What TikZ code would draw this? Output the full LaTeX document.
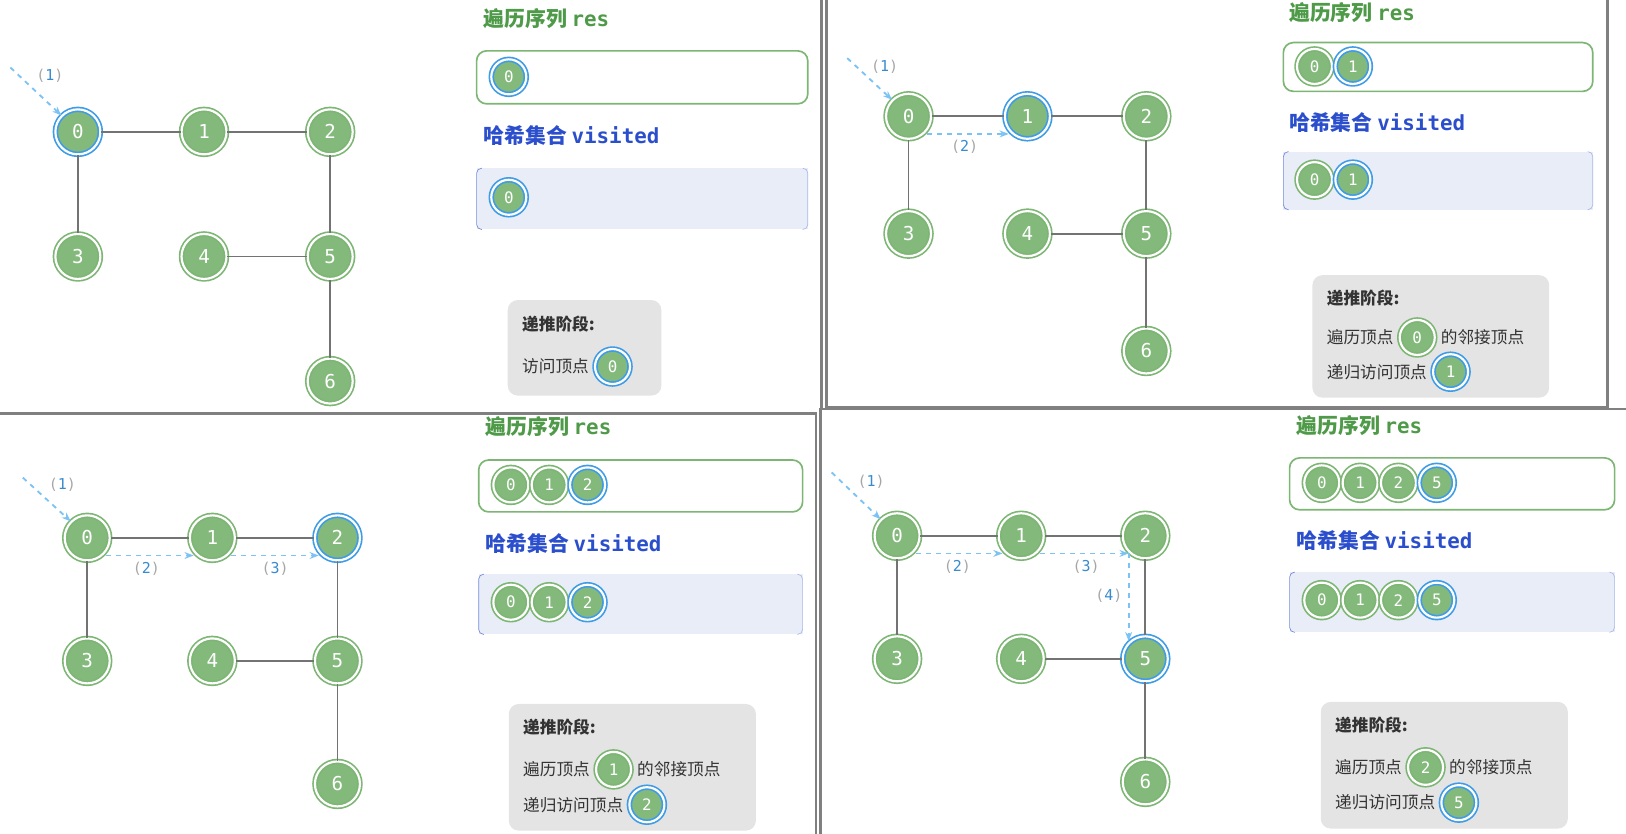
\documentclass[tikz,border=0pt]{standalone}
\usepackage{fontspec}
\setmainfont{Noto Sans CJK SC}
\setmonofont{DejaVu Sans Mono}
\usepackage{tikz}
\usetikzlibrary{positioning,calc,arrows.meta}

\definecolor{vgreen}{HTML}{84B97C}
\definecolor{vring}{HTML}{7DB674}
\definecolor{vblue}{HTML}{3E9BE6}
\definecolor{tgreen}{HTML}{4E9A48}
\definecolor{tblue}{HTML}{2B4FCC}
\definecolor{abl}{HTML}{7CC2F4}
\definecolor{visfill}{HTML}{E9EDF8}
\definecolor{visline}{HTML}{7088DD}
\definecolor{stagefill}{HTML}{E4E4E4}

\tikzset{
  vtx/.style={circle,fill=vgreen,draw=vring,double=white,double distance=1.3pt,
    line width=1pt,minimum size=27pt,inner sep=0pt,text=white,
    font=\ttfamily\fontsize{11.5}{12}\selectfont},
  sv/.style={vtx,minimum size=21pt,font=\ttfamily\fontsize{9.5}{10}\selectfont},
  seen/.style={draw=vblue},
  edge/.style={draw=gray!90!black,line width=1.1pt},
  walk/.style={draw=abl,dashed,line width=1.1pt,-{Stealth[length=5.5pt]}},
  lbl/.style={font=\ttfamily\fontsize{9}{10}\selectfont},
  ttl/.style={anchor=west,font=\bfseries\fontsize{12.5}{14}\selectfont},
  txt/.style={anchor=west,inner sep=1pt,font=\fontsize{10}{12}\selectfont,text=black!80},
  resbox/.style={draw=vring,line width=1pt,fill=white,rounded corners=6pt},
  stage/.style={fill=stagefill,rounded corners=6pt},
  frame/.style={draw=gray,line width=1.6pt}
}
% step label (n)
\newcommand{\stp}[1]{{\color{gray!70}(}\textcolor{vblue!90!black}{#1}{\color{gray!70})}}
% graph: prefix, x0, y0, dx, dy, visited vertex
\newcommand{\drawgraph}[6]{%
  \foreach \i/\c/\r in {0/0/0,1/1/0,2/2/0,3/0/1,4/1/1,5/2/1,6/2/2}{
    \ifnum\i=#6
      \node[vtx,seen] (#1\i) at ({#2+\c*#4},{#3+\r*#5}) {\i};
    \else
      \node[vtx] (#1\i) at ({#2+\c*#4},{#3+\r*#5}) {\i};
    \fi
  }
  \foreach \u/\v in {0/1,1/2,0/3,2/5,4/5,5/6}
    \draw[edge] (#1\u) -- (#1\v);
}
% visited box
\newcommand{\visbox}[4]{%
  \fill[visfill] (#1,#2) rectangle (#3,#4);
  \draw[visline,rounded corners=3pt] (#1+5,#2) -- (#1,#2) -- (#1,#4) -- (#1+5,#4);
  \draw[visline!60,rounded corners=3pt] (#3-5,#2) -- (#3,#2) -- (#3,#4) -- (#3-5,#4);
}

\begin{document}
\begin{tikzpicture}[x=0.623pt,y=-0.623pt]
  \useasboundingbox (0,0) rectangle (1566,803);

  % panel frames
  \draw[frame] (791,0) -- (791,395);
  \draw[frame] (796,0) -- (796,392) -- (1548,392) -- (1548,0);
  \draw[frame] (0,398) -- (786,398) -- (786,805);
  \draw[frame] (790,805) -- (790,394) -- (1566,394);

  % ---- panel 1 ----
  \drawgraph{a}{75}{127}{121.5}{120}{0}
  \coordinate (as) at (10,65);
  \draw[walk] (as) -- (a0.135);
  \node[lbl] at (48,73) {\stp{1}};
  \node[ttl,text=tgreen] at (460,18) {遍历序列 \texttt{res}};
  \draw[resbox] (459,49) rectangle (778,100);
  \node[sv,seen] (ar0) at (490,74) {0};
  \node[ttl,text=tblue] at (460,131) {哈希集合 \texttt{visited}};
  \visbox{459}{162}{778}{221}
  \node[sv,seen] (av0) at (490,190) {0};
  \fill[stage] (489,289) rectangle (637,381);
  \node[txt,font=\bfseries\fontsize{10}{12}\selectfont] (at1) at (501,312) {递推阶段:};
  \node[txt] (at2) at (501,353) {访问顶点};
  \node[sv,seen,right=2pt of at2] (at2c) {0};

  % ---- panel 2 ----
  \drawgraph{b}{875}{112}{114.5}{113}{1}
  \coordinate (bs) at (816,56);
  \draw[walk] (bs) -- (b0.135);
  \node[lbl] at (852,64) {\stp{1}};
  \draw[walk] ($(b0)+(18,17)$) -- ($(b1)+(-18,17)$);
  \node[lbl] at (929,141) {\stp{2}};
  \node[ttl,text=tgreen] at (1236,12) {遍历序列 \texttt{res}};
  \draw[resbox] (1236,41) rectangle (1534,88);
  \node[sv] (br0) at (1266,64) {0};
  \node[sv,seen,right=1pt of br0] (br1) {1};
  \node[ttl,text=tblue] at (1236,118) {哈希集合 \texttt{visited}};
  \visbox{1236}{146}{1534}{202}
  \node[sv] (bv0) at (1266,173) {0};
  \node[sv,seen,right=1pt of bv0] (bv1) {1};
  \fill[stage] (1264,265) rectangle (1492,383);
  \node[txt,font=\bfseries\fontsize{10}{12}\selectfont] (bt1) at (1276,287) {递推阶段:};
  \node[txt] (bt2) at (1276,325) {遍历顶点};
  \node[sv,right=2pt of bt2] (bt2c) {0};
  \node[txt,right=2pt of bt2c] {的邻接顶点};
  \node[txt] (bt3) at (1276,358) {递归访问顶点};
  \node[sv,seen,right=2pt of bt3] (bt3c) {1};

  % ---- panel 3 ----
  \drawgraph{c}{84}{518}{120.5}{118.5}{2}
  \coordinate (cs) at (22,460);
  \draw[walk] (cs) -- (c0.135);
  \node[lbl] at (60,467) {\stp{1}};
  \draw[walk] ($(c0)+(18,17)$) -- ($(c1)+(-18,17)$);
  \node[lbl] at (141,548) {\stp{2}};
  \draw[walk] ($(c1)+(18,17)$) -- ($(c2)+(-18,17)$);
  \node[lbl] at (265,548) {\stp{3}};
  \node[ttl,text=tgreen] at (462,411) {遍历序列 \texttt{res}};
  \draw[resbox] (461,443) rectangle (773,493);
  \node[sv] (cr0) at (492,467) {0};
  \node[sv,right=1pt of cr0] (cr1) {1};
  \node[sv,seen,right=1pt of cr1] (cr2) {2};
  \node[ttl,text=tblue] at (462,523) {哈希集合 \texttt{visited}};
  \visbox{461}{553}{773}{611}
  \node[sv] (cv0) at (492,580) {0};
  \node[sv,right=1pt of cv0] (cv1) {1};
  \node[sv,seen,right=1pt of cv1] (cv2) {2};
  \fill[stage] (490,678) rectangle (728,800);
  \node[txt,font=\bfseries\fontsize{10}{12}\selectfont] (ct1) at (502,700) {递推阶段:};
  \node[txt] (ct2) at (502,741) {遍历顶点};
  \node[sv,right=2pt of ct2] (ct2c) {1};
  \node[txt,right=2pt of ct2c] {的邻接顶点};
  \node[txt] (ct3) at (502,775) {递归访问顶点};
  \node[sv,seen,right=2pt of ct3] (ct3c) {2};

  % ---- panel 4 ----
  \drawgraph{d}{864}{516}{119.5}{118.5}{5}
  \coordinate (ds) at (801,455);
  \draw[walk] (ds) -- (d0.135);
  \node[lbl] at (839,464) {\stp{1}};
  \draw[walk] ($(d0)+(18,17)$) -- ($(d1)+(-18,17)$);
  \node[lbl] at (922,546) {\stp{2}};
  \coordinate (dc) at ($(d2)+(-16,17)$);
  \draw[walk] ($(d1)+(18,17)$) -- (dc);
  \node[lbl] at (1046,546) {\stp{3}};
  \draw[walk] (dc) -- ($(d5)+(-16,-17)$);
  \node[lbl] at (1068,574) {\stp{4}};
  \node[ttl,text=tgreen] at (1243,410) {遍历序列 \texttt{res}};
  \draw[resbox] (1242,441) rectangle (1555,491);
  \node[sv] (dr0) at (1273,465) {0};
  \node[sv,right=1pt of dr0] (dr1) {1};
  \node[sv,right=1pt of dr1] (dr2) {2};
  \node[sv,seen,right=1pt of dr2] (dr5) {5};
  \node[ttl,text=tblue] at (1243,521) {哈希集合 \texttt{visited}};
  \visbox{1242}{551}{1555}{609}
  \node[sv] (dv0) at (1273,578) {0};
  \node[sv,right=1pt of dv0] (dv1) {1};
  \node[sv,right=1pt of dv1] (dv2) {2};
  \node[sv,seen,right=1pt of dv2] (dv5) {5};
  \fill[stage] (1272,676) rectangle (1510,798);
  \node[txt,font=\bfseries\fontsize{10}{12}\selectfont] (dt1) at (1284,698) {递推阶段:};
  \node[txt] (dt2) at (1284,739) {遍历顶点};
  \node[sv,right=2pt of dt2] (dt2c) {2};
  \node[txt,right=2pt of dt2c] {的邻接顶点};
  \node[txt] (dt3) at (1284,773) {递归访问顶点};
  \node[sv,seen,right=2pt of dt3] (dt3c) {5};
\end{tikzpicture}
\end{document}
